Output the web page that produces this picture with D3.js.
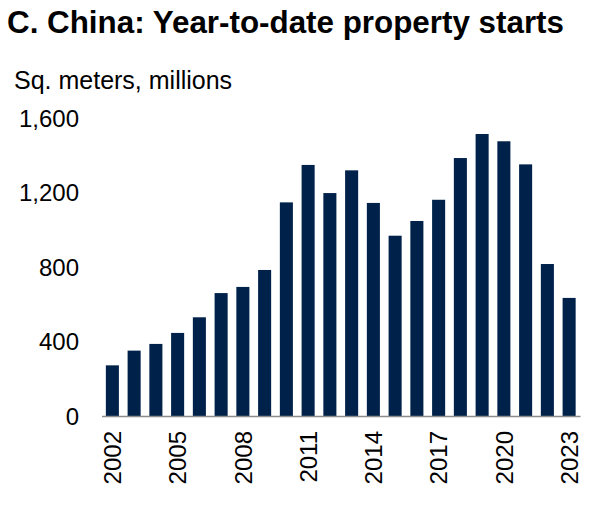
<!DOCTYPE html>
<html>
<head>
<meta charset="utf-8">
<script src="https://cdn.jsdelivr.net/npm/d3@7"></script>
<style>
  body { margin: 0; background: #fff; }
  text { font-family: "Liberation Sans", Arial, sans-serif; fill: #000; }
  .title { font-size: 31px; font-weight: bold; }
  .unit { font-size: 25px; }
  .axis text { font-size: 24px; }
  .axis path, .axis line { stroke: #8c8c8c; }
</style>
</head>
<body>
<svg id="chart" width="594" height="508"></svg>
<script>
// Year-to-date property starts, sq. meters (millions)
const years = d3.range(2002, 2024).map(String);
const starts = [272, 351, 387, 446, 530, 660, 693, 784, 1147, 1348, 1197,
  1319, 1144, 968, 1047, 1161, 1385, 1514, 1475, 1351, 816, 634];
const yTicks = [0, 400, 800, 1200, 1600];
const xTickYears = ["2002", "2005", "2008", "2011", "2014", "2017", "2020", "2023"];

const svg = d3.select("#chart");

// Set the ranges
const x = d3.scaleBand()
  .domain(years)
  .range([101.5, 580])
  .paddingInner(0.4)
  .paddingOuter(0.2);

const y = d3.scaleLinear()
  .domain([0, 1600])
  .range([416, 118]);

// Title and unit
svg.append("text")
  .attr("class", "title")
  .attr("x", 7)
  .attr("y", 33)
  .attr("textLength", 557)
  .attr("lengthAdjust", "spacingAndGlyphs")
  .text("C. China: Year-to-date property starts");

svg.append("text")
  .attr("class", "unit")
  .attr("x", 14)
  .attr("y", 89)
  .text("Sq. meters, millions");

// Y labels (no axis line)
svg.append("g")
  .attr("class", "axis")
  .selectAll("text")
  .data(yTicks)
  .join("text")
  .attr("x", 79)
  .attr("y", d => y(d))
  .attr("dy", "0.36em")
  .attr("text-anchor", "end")
  .text(d => d3.format(",")(d));

// Bars
svg.append("g")
  .selectAll("rect")
  .data(years)
  .join("rect")
  .attr("x", d => x(d))
  .attr("y", (d, i) => y(starts[i]))
  .attr("width", x.bandwidth())
  .attr("height", (d, i) => y(0) - y(starts[i]))
  .attr("fill", "#00224a");

// X axis
const xAxis = svg.append("g")
  .attr("class", "axis")
  .attr("transform", "translate(0," + y(0) + ")")
  .call(d3.axisBottom(x).tickValues(xTickYears).tickSize(0).tickSizeOuter(0));

xAxis.select(".domain").attr("stroke-width", 1.5);
xAxis.selectAll("text")
  .attr("transform", "rotate(-90)")
  .attr("x", -15)
  .attr("y", 0)
  .attr("dy", "0.36em")
  .attr("text-anchor", "end")
  .attr("font-size", null)
  .attr("font-family", null);
</script>
</body>
</html>
